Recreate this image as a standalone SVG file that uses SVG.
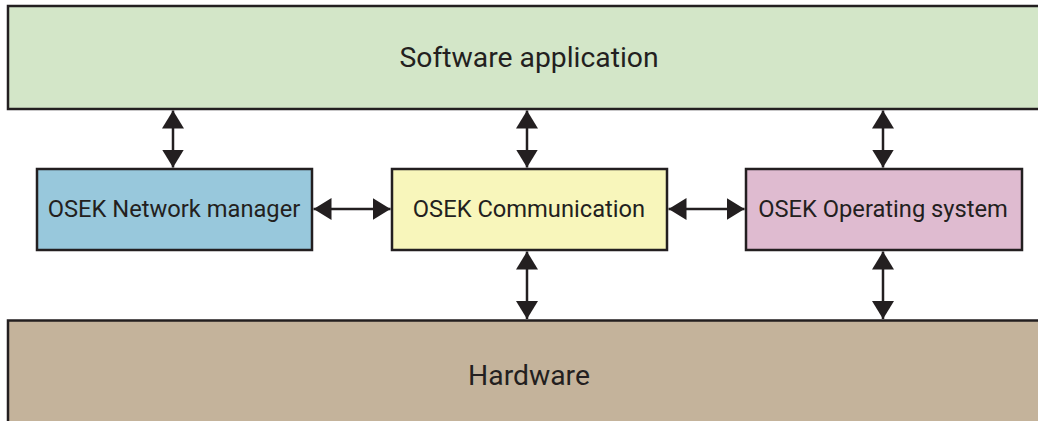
<svg xmlns="http://www.w3.org/2000/svg" width="1038" height="421" viewBox="0 0 1038 421">
<style>
.box{stroke:#231f20;stroke-width:2.5}
.lbl{font-family:Roboto,"Liberation Sans",sans-serif;fill:#231f20;text-anchor:middle}
.big{font-size:28.3px}
.sm{font-size:23.7px}
.con{stroke:#231f20;stroke-width:2.5;fill:none;marker-start:url(#ah);marker-end:url(#ah)}
</style>
<defs>
<marker id="ah" viewBox="0 0 18 22" refX="18" refY="11" markerWidth="18" markerHeight="22" markerUnits="userSpaceOnUse" orient="auto-start-reverse">
<path d="M0,0 L18,11 L0,22 Z" fill="#231f20"/>
</marker>
</defs>
<g id="software">
<rect class="box" x="8" y="6" width="1040" height="103" fill="#d3e6c8"/>
<text class="lbl big" x="529" y="66.5">Software application</text>
</g>
<g id="hardware">
<rect class="box" x="8" y="320.5" width="1040" height="110" fill="#c4b39b"/>
<text class="lbl big" x="529" y="384.5">Hardware</text>
</g>
<g id="netmgr">
<rect class="box" x="37" y="169" width="275" height="81" fill="#98c8dc"/>
<text class="lbl sm" x="174" y="216.5">OSEK Network manager</text>
</g>
<g id="comm">
<rect class="box" x="392" y="169" width="275" height="81" fill="#f8f6bb"/>
<text class="lbl sm" x="529" y="216.5">OSEK Communication</text>
</g>
<g id="os">
<rect class="box" x="746" y="169" width="276" height="81" fill="#dfbbd0"/>
<text class="lbl sm" x="883" y="216.5">OSEK Operating system</text>
</g>
<g id="connectors">
<line class="con" x1="173" y1="110.5" x2="173" y2="167.5"/>
<line class="con" x1="527" y1="110.5" x2="527" y2="167.5"/>
<line class="con" x1="883" y1="110.5" x2="883" y2="167.5"/>
<line class="con" x1="527" y1="251.5" x2="527" y2="319"/>
<line class="con" x1="883" y1="251.5" x2="883" y2="319"/>
<line class="con" x1="313.5" y1="209" x2="390.5" y2="209"/>
<line class="con" x1="668.5" y1="209" x2="744.5" y2="209"/>
</g>
</svg>
